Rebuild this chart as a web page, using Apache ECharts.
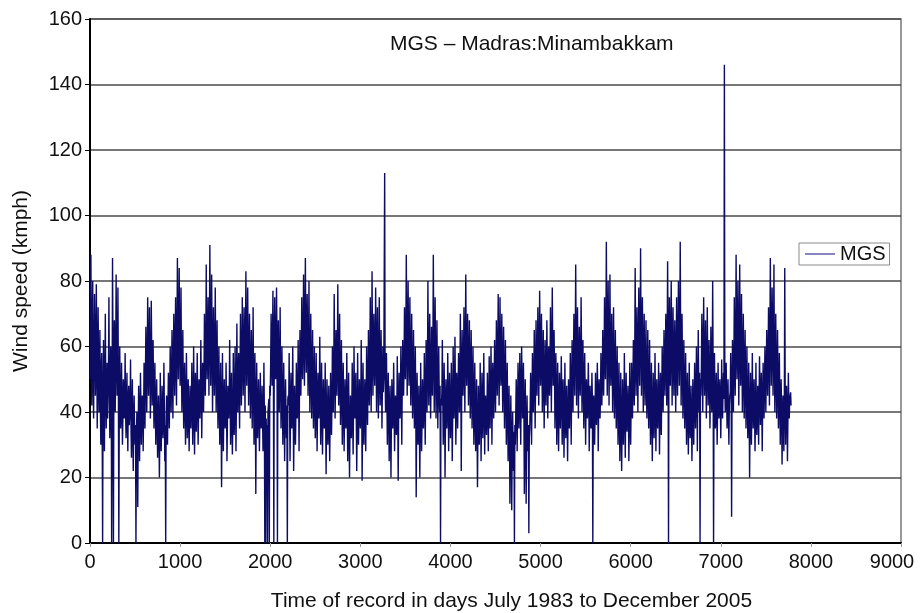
<!DOCTYPE html>
<html>
<head>
<meta charset="utf-8">
<title>MGS – Madras:Minambakkam</title>
<script src="https://cdn.jsdelivr.net/npm/echarts@6/dist/echarts.min.js"></script>
<style>
  html, body { margin: 0; padding: 0; background: #ffffff; }
  #chart { width: 921px; height: 613px; }
</style>
</head>
<body>
<div id="chart"></div>
<script>
// Maximum gust speed (kmph) at Madras:Minambakkam, July 1983 - December 2005.
// gustKmph holds readings on days 0, 10, 20, ...; gustKmphMid holds the
// readings in between, on days 5, 15, 25, ...
const stepDays = 10;

const gustKmph = [
  // days 0 - 990
  50, 88, 42, 80, 38, 76, 45, 79, 35, 72,
  40, 65, 30, 58, 0, 62, 28, 70, 35, 55,
  45, 75, 32, 60, 0, 87, 0, 68, 40, 82,
  45, 78, 0, 60, 35, 55, 30, 50, 38, 58,
  32, 52, 28, 48, 36, 56, 26, 50, 22, 45,
  30, 0, 40, 11, 48, 25, 52, 30, 45, 28,
  55, 35, 66, 40, 75, 45, 72, 38, 74, 42,
  62, 35, 55, 30, 50, 26, 45, 20, 52, 28,
  48, 32, 55, 25, 0, 45, 30, 52, 35, 60,
  40, 65, 38, 70, 45, 75, 42, 87, 50, 84,
  // days 1000 - 1990
  48, 78, 40, 65, 35, 55, 30, 58, 32, 50,
  28, 48, 35, 55, 30, 60, 27, 52, 34, 58,
  30, 50, 38, 62, 32, 55, 40, 70, 45, 85,
  50, 75, 45, 91, 48, 82, 40, 72, 45, 78,
  40, 68, 35, 60, 30, 55, 17, 58, 28, 50,
  35, 55, 25, 48, 38, 62, 30, 52, 27, 58,
  33, 60, 28, 67, 40, 58, 35, 70, 42, 75,
  45, 72, 40, 83, 48, 78, 42, 70, 38, 65,
  35, 72, 30, 58, 15, 55, 32, 50, 28, 52,
  35, 48, 28, 55, 0, 0, 30, 0, 40, 0,
  // days 2000 - 2990
  45, 70, 48, 77, 0, 75, 50, 78, 0, 68,
  40, 72, 35, 60, 30, 55, 25, 50, 32, 0,
  45, 58, 25, 52, 35, 60, 22, 48, 30, 55,
  38, 62, 28, 65, 45, 75, 50, 82, 48, 87,
  52, 76, 45, 80, 40, 70, 38, 65, 35, 60,
  32, 58, 28, 52, 38, 63, 30, 55, 27, 50,
  35, 55, 21, 50, 30, 48, 25, 52, 33, 60,
  40, 76, 38, 65, 45, 79, 42, 70, 36, 62,
  30, 55, 28, 50, 35, 58, 25, 52, 20, 45,
  32, 55, 27, 60, 38, 52, 22, 58, 30, 50,
  // days 3000 - 3990
  35, 62, 19, 55, 30, 50, 28, 60, 36, 65,
  42, 75, 40, 83, 45, 70, 48, 78, 40, 72,
  38, 75, 42, 65, 35, 60, 50, 113, 40, 58,
  30, 52, 25, 48, 20, 50, 35, 55, 28, 45,
  33, 57, 19, 52, 38, 60, 30, 62, 45, 72,
  50, 88, 45, 80, 48, 75, 42, 70, 38, 65,
  35, 60, 14, 52, 30, 48, 20, 55, 28, 50,
  35, 58, 30, 62, 40, 80, 42, 70, 38, 66,
  45, 88, 40, 75, 38, 68, 35, 60, 40, 0,
  42, 62, 30, 55, 20, 50, 35, 58, 28, 52,
  // days 4000 - 4990
  32, 55, 25, 60, 38, 63, 30, 52, 35, 58,
  40, 70, 22, 65, 45, 72, 40, 82, 48, 70,
  42, 68, 38, 65, 35, 60, 30, 55, 28, 50,
  17, 48, 30, 55, 25, 52, 32, 58, 27, 45,
  33, 52, 28, 57, 35, 60, 30, 55, 38, 62,
  40, 68, 45, 76, 42, 75, 48, 70, 40, 66,
  35, 62, 30, 55, 25, 48, 12, 45, 10, 40,
  22, 0, 30, 50, 28, 55, 35, 58, 30, 60,
  38, 55, 15, 50, 12, 45, 28, 3, 35, 52,
  30, 58, 40, 65, 35, 68, 45, 72, 42, 77,
  // days 5000 - 5990
  48, 70, 40, 65, 35, 62, 42, 68, 38, 60,
  45, 72, 40, 78, 48, 65, 35, 58, 30, 55,
  28, 52, 35, 57, 30, 50, 26, 55, 32, 48,
  25, 50, 35, 58, 30, 62, 40, 70, 45, 85,
  42, 72, 38, 66, 45, 75, 40, 62, 35, 58,
  30, 50, 38, 55, 28, 48, 35, 52, 0, 45,
  30, 52, 36, 55, 28, 50, 38, 58, 42, 65,
  45, 75, 50, 92, 45, 80, 42, 82, 48, 70,
  40, 72, 38, 65, 35, 60, 30, 55, 25, 52,
  22, 50, 30, 58, 26, 52, 34, 48, 25, 55,
  // days 6000 - 6990
  30, 55, 38, 62, 42, 84, 45, 72, 40, 78,
  48, 90, 45, 75, 40, 70, 42, 68, 38, 65,
  35, 62, 30, 55, 25, 52, 32, 58, 28, 50,
  35, 55, 27, 52, 33, 60, 40, 65, 45, 70,
  42, 86, 0, 75, 48, 80, 42, 72, 45, 68,
  40, 75, 45, 80, 48, 92, 42, 70, 38, 62,
  35, 58, 30, 52, 27, 55, 32, 48, 25, 50,
  30, 55, 35, 60, 28, 65, 40, 0, 45, 70,
  40, 75, 45, 68, 38, 72, 42, 62, 35, 66,
  40, 80, 0, 58, 35, 52, 30, 55, 38, 50,
  // days 7000 - 7780
  32, 56, 38, 52, 146, 40, 55, 35, 50, 30,
  45, 58, 8, 62, 40, 75, 45, 88, 50, 80,
  42, 85, 48, 76, 40, 70, 38, 65, 35, 60,
  32, 55, 20, 52, 30, 58, 35, 50, 28, 55,
  33, 48, 30, 57, 36, 52, 28, 55, 38, 60,
  40, 65, 45, 72, 42, 87, 48, 78, 45, 85,
  40, 70, 38, 65, 35, 58, 30, 50, 24, 45,
  28, 84, 30, 48, 25, 52, 38, 45, 42
];

const gustKmphMid = [
  // days 5 - 995
  62, 55, 68, 50, 58, 64, 52, 60, 48, 55,
  48, 42, 52, 38, 45, 40, 50, 46, 42, 38,
  52, 48, 44, 55, 40, 58, 50, 62, 56, 60,
  55, 48, 42, 46, 40, 44, 38, 42, 45, 40,
  40, 38, 44, 36, 42, 35, 40, 34, 38, 33,
  36, 32, 38, 35, 40, 36, 42, 38, 44, 40,
  46, 50, 55, 52, 58, 60, 55, 50, 57, 52,
  48, 44, 42, 40, 38, 36, 34, 33, 38, 36,
  40, 38, 42, 36, 38, 40, 42, 44, 46, 48,
  50, 52, 55, 58, 60, 56, 62, 64, 65, 60,
  // days 1005 - 1995
  58, 54, 50, 48, 44, 42, 40, 45, 40, 38,
  38, 40, 42, 44, 40, 46, 38, 42, 45, 44,
  40, 42, 46, 48, 44, 46, 50, 55, 58, 62,
  60, 58, 64, 66, 62, 60, 56, 58, 55, 57,
  52, 50, 46, 44, 42, 40, 38, 42, 40, 38,
  40, 42, 36, 40, 44, 46, 40, 38, 36, 42,
  42, 45, 44, 48, 50, 46, 52, 54, 56, 58,
  56, 58, 60, 62, 60, 58, 55, 54, 50, 52,
  48, 50, 44, 42, 40, 38, 42, 40, 38, 40,
  40, 38, 36, 40, 42, 38, 36, 40, 44, 48,
  // days 2005 - 2995
  55, 58, 60, 56, 62, 58, 60, 62, 56, 54,
  52, 50, 46, 44, 42, 40, 38, 40, 42, 44,
  42, 40, 38, 40, 44, 42, 38, 36, 40, 42,
  44, 46, 48, 52, 56, 58, 62, 64, 66, 64,
  62, 60, 58, 56, 54, 52, 50, 48, 46, 44,
  42, 44, 40, 42, 46, 44, 40, 42, 38, 40,
  40, 38, 36, 40, 38, 36, 38, 40, 42, 46,
  52, 55, 50, 54, 58, 56, 52, 50, 48, 46,
  44, 42, 40, 38, 42, 40, 38, 36, 34, 38,
  40, 38, 42, 44, 40, 38, 36, 40, 42, 38,
  // days 3005 - 3995
  42, 44, 38, 40, 42, 40, 44, 46, 48, 50,
  54, 56, 58, 60, 58, 56, 58, 60, 56, 54,
  52, 54, 50, 52, 48, 46, 50, 52, 46, 44,
  42, 40, 38, 36, 38, 40, 42, 40, 38, 36,
  40, 42, 38, 40, 44, 46, 48, 50, 54, 56,
  62, 64, 60, 62, 58, 56, 54, 52, 50, 48,
  46, 44, 38, 40, 38, 36, 38, 40, 38, 40,
  42, 44, 46, 48, 52, 56, 54, 52, 50, 52,
  58, 60, 56, 54, 52, 50, 48, 46, 48, 44,
  46, 44, 40, 42, 38, 40, 42, 44, 40, 42,
  // days 4005 - 4995
  40, 42, 38, 44, 46, 48, 42, 44, 46, 48,
  50, 52, 46, 50, 54, 56, 58, 60, 58, 56,
  54, 52, 50, 48, 46, 44, 42, 40, 38, 36,
  34, 38, 40, 42, 38, 40, 42, 44, 40, 38,
  40, 42, 40, 44, 46, 48, 44, 46, 48, 50,
  52, 54, 56, 58, 56, 58, 56, 54, 52, 50,
  48, 46, 42, 40, 36, 34, 30, 32, 28, 30,
  34, 36, 40, 42, 40, 44, 46, 44, 46, 48,
  46, 42, 34, 36, 30, 34, 36, 32, 42, 44,
  44, 46, 50, 52, 50, 54, 56, 58, 56, 60,
  // days 5005 - 5995
  58, 56, 52, 50, 48, 50, 52, 54, 50, 48,
  54, 56, 58, 60, 56, 52, 48, 46, 44, 42,
  40, 42, 44, 46, 42, 40, 38, 42, 40, 38,
  38, 40, 44, 46, 48, 50, 54, 56, 60, 62,
  58, 56, 54, 52, 56, 58, 52, 50, 48, 46,
  42, 40, 44, 46, 40, 38, 42, 44, 40, 38,
  40, 42, 44, 46, 42, 40, 44, 46, 50, 52,
  56, 58, 62, 66, 62, 60, 58, 60, 58, 56,
  54, 52, 50, 48, 46, 44, 42, 40, 38, 38,
  36, 38, 40, 42, 40, 38, 42, 40, 38, 40,
  // days 6005 - 6995
  42, 44, 48, 50, 56, 60, 58, 56, 58, 60,
  62, 64, 60, 58, 56, 54, 52, 50, 48, 46,
  46, 44, 42, 40, 38, 40, 42, 44, 40, 38,
  42, 44, 40, 42, 46, 48, 52, 54, 56, 58,
  60, 62, 58, 60, 62, 60, 58, 56, 58, 54,
  56, 58, 60, 62, 64, 62, 56, 54, 50, 48,
  46, 44, 42, 40, 38, 40, 38, 36, 38, 40,
  42, 44, 46, 48, 46, 50, 52, 50, 54, 56,
  56, 58, 54, 52, 54, 56, 52, 50, 48, 50,
  52, 54, 46, 44, 42, 40, 42, 44, 46, 42,
  // days 7005 - 7775
  42, 44, 46, 44, 48, 46, 44, 42, 40, 42,
  46, 48, 44, 50, 54, 58, 60, 64, 62, 60,
  60, 62, 58, 56, 54, 52, 50, 48, 46, 44,
  42, 40, 38, 40, 42, 44, 42, 40, 38, 40,
  40, 42, 44, 46, 44, 42, 44, 46, 48, 50,
  52, 54, 56, 58, 62, 64, 60, 62, 58, 56,
  54, 52, 50, 48, 46, 44, 42, 40, 36, 38,
  40, 46, 42, 40, 38, 42, 44, 46
];

const xTicks = [0, 1000, 2000, 3000, 4000, 5000, 6000, 7000, 8000, 9000];
const yTicks = [0, 20, 40, 60, 80, 100, 120, 140, 160];

const seriesName = 'MGS';
const chartTitle = 'MGS – Madras:Minambakkam';
const xAxisTitle = 'Time of record in days July 1983 to December 2005';
const yAxisTitle = 'Wind speed (kmph)';

// Merge the two readings lists into one day-ordered record.
const points = [];
gustKmph.forEach((v, i) => {
  points.push([i * stepDays, v]);
  if (i < gustKmphMid.length) points.push([i * stepDays + stepDays / 2, gustKmphMid[i]]);
});

const xMax = xTicks[xTicks.length - 1];
const font = 'Liberation Sans, Arial, Helvetica, sans-serif';
const chart = echarts.init(document.getElementById('chart'), null, { renderer: 'canvas' });

chart.setOption({
  animation: false,
  backgroundColor: '#ffffff',
  textStyle: { fontFamily: font },
  title: {
    text: chartTitle,
    left: 385,
    top: 29,
    textStyle: { fontFamily: font, fontSize: 21, fontWeight: 'normal', color: '#111' }
  },
  legend: {
    data: [seriesName],
    left: 799,
    top: 243,
    orient: 'vertical',
    icon: 'rect',
    itemWidth: 30,
    itemHeight: 1.5,
    itemGap: 0,
    padding: [1, 4, 1, 6],
    borderColor: '#8a8a8a',
    borderWidth: 1,
    backgroundColor: '#ffffff',
    textStyle: { fontFamily: font, fontSize: 20, color: '#111' },
    itemStyle: { color: '#5e5ea6' }
  },
  grid: {
    left: 90,
    right: 20,
    top: 19,
    bottom: 70,
    outerBoundsMode: 'none',
    show: true,
    borderColor: '#777',
    borderWidth: 1.5,
    backgroundColor: 'transparent'
  },
  xAxis: {
    type: 'value',
    min: xTicks[0],
    max: xMax,
    interval: 1000,
    name: xAxisTitle,
    nameLocation: 'middle',
    nameGap: 48,
    nameTextStyle: { fontFamily: font, fontSize: 21, color: '#111', padding: [0, 0, 0, 32] },
    axisLine: { show: true, onZero: false, lineStyle: { color: '#000', width: 2 } },
    axisTick: { show: true, length: 4, lineStyle: { color: '#999', width: 1 } },
    axisLabel: {
      fontFamily: font,
      fontSize: 20,
      color: '#111',
      margin: 9,
      // keep the last label inside the page
      formatter: v => (v === xMax ? '{last|' + v + '}' : String(v)),
      rich: { last: { fontFamily: font, fontSize: 20, color: '#111', padding: [0, 18, 0, 0] } }
    },
    splitLine: { show: false }
  },
  yAxis: {
    type: 'value',
    min: yTicks[0],
    max: yTicks[yTicks.length - 1],
    interval: 20,
    name: yAxisTitle,
    nameLocation: 'middle',
    nameGap: 58,
    nameTextStyle: { fontFamily: font, fontSize: 21, color: '#111' },
    axisLine: { show: true, lineStyle: { color: '#000', width: 2 } },
    axisTick: { show: true, length: 5, lineStyle: { color: '#000', width: 1 } },
    axisLabel: { fontFamily: font, fontSize: 20, color: '#111', margin: 8, formatter: v => String(v) },
    splitLine: { show: true, lineStyle: { color: '#4a4a4a', width: 1.5 } }
  },
  series: [{
    name: seriesName,
    type: 'line',
    data: points,
    showSymbol: false,
    symbol: 'none',
    sampling: null,
    lineStyle: { color: '#0c0c66', width: 1.4 },
    itemStyle: { color: '#0c0c66' },
    z: 3
  }]
});
</script>
</body>
</html>
